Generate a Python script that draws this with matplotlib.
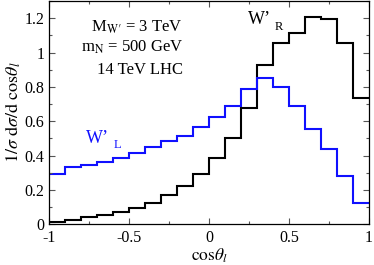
import numpy as np
import matplotlib
matplotlib.use("Agg")
import matplotlib.pyplot as plt
from matplotlib.ticker import MultipleLocator

plt.rcParams['font.family'] = ['Liberation Serif', 'DejaVu Serif']
plt.rcParams['mathtext.fontset'] = 'stix'
plt.rcParams['axes.unicode_minus'] = False

# bin edges in cos(theta_l)
edges = np.linspace(-1, 1, 21)

# W'_L (blue) and W'_R (black) normalised distributions, one value per bin
w_left = [0.290, 0.336, 0.342, 0.365, 0.385, 0.414, 0.447, 0.486, 0.515, 0.567,
          0.624, 0.690, 0.790, 0.849, 0.798, 0.686, 0.553, 0.437, 0.283, 0.122]
w_right = [0.014, 0.027, 0.039, 0.052, 0.072, 0.097, 0.126, 0.169, 0.225, 0.292,
           0.383, 0.500, 0.678, 0.927, 1.055, 1.115, 1.210, 1.198, 1.055, 0.737]

xticks = [-1, -0.5, 0, 0.5, 1]
xticklabels = ["-1", "-0.5", "0", "0.5", "1"]
yticks = [0, 0.2, 0.4, 0.6, 0.8, 1.0, 1.2]
yticklabels = ["0", "0.2", "0.4", "0.6", "0.8", "1", "1.2"]

blue = '#1010ff'

fig = plt.figure(figsize=(3.74, 2.65), dpi=100)
ax = fig.add_axes([0.132, 0.154, 0.855, 0.842])

ax.stairs(w_right, edges, baseline=None, color='black', linewidth=1.5)
ax.stairs(w_left, edges, baseline=None, color=blue, linewidth=1.5)

ax.set_xlim(-1, 1)
ax.set_ylim(0, 1.3)
ax.set_xticks(xticks)
ax.set_xticklabels(xticklabels)
ax.set_yticks(yticks)
ax.set_yticklabels(yticklabels)
ax.xaxis.set_minor_locator(MultipleLocator(0.25))
ax.yaxis.set_minor_locator(MultipleLocator(0.1))
ax.tick_params(which='both', direction='in', top=True, right=True,
               labelsize=11.5, color='#555555')
ax.tick_params(axis='x', which='major', pad=4.5)
ax.tick_params(which='major', length=4, width=0.8)
ax.tick_params(which='minor', length=2.5, width=0.8)
for s in ax.spines.values():
    s.set_linewidth(0.9)

ax.set_xlabel(r"$\mathrm{cos}\theta_l$", fontsize=12.5, labelpad=0)
ax.set_ylabel(r"$1/\sigma\ \mathrm{d}\sigma/\mathrm{d}\ \mathrm{cos}\theta_l$",
              fontsize=13, labelpad=1)

ax.text(-0.164, 1.145, r"M$_{\mathrm{W}\prime}$ = 3 TeV", fontsize=12, ha='right', va='center')
ax.text(-0.164, 1.03, r"m$_{\mathrm{N}}$ = 500 GeV", fontsize=12, ha='right', va='center')
ax.text(-0.164, 0.90, "14 TeV LHC", fontsize=12, ha='right', va='center')

ax.text(0.24, 1.19, "W\u2019", fontsize=13, ha='left', va='center')
ax.text(0.41, 1.15, "R", fontsize=9, ha='left', va='center')
ax.text(-0.77, 0.50, "W\u2019", fontsize=13, ha='left', va='center', color=blue)
ax.text(-0.60, 0.46, "L", fontsize=9, ha='left', va='center', color=blue)

fig.savefig("out.png", dpi=100)
